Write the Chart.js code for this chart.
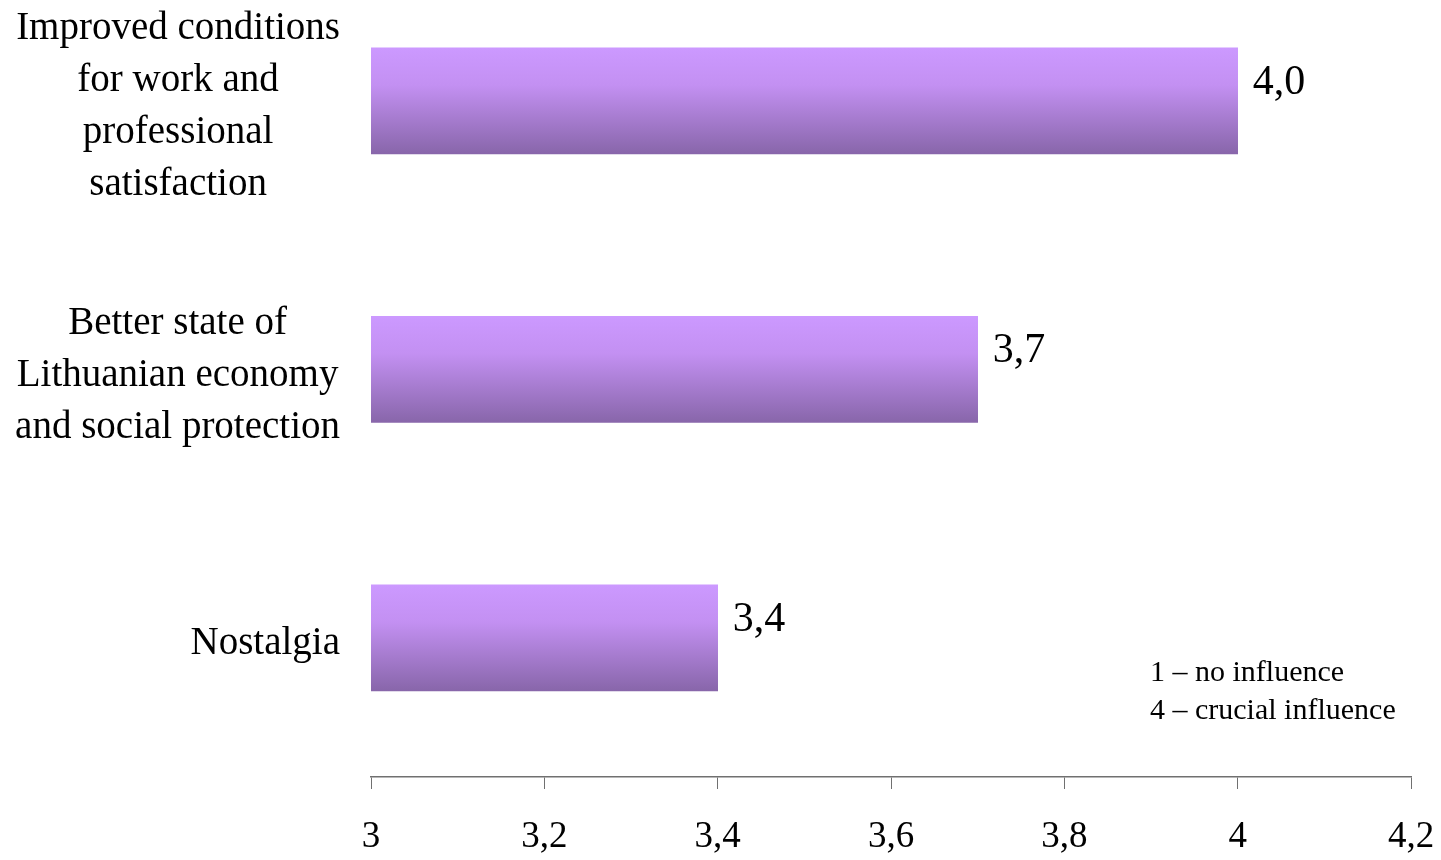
<!DOCTYPE html>
<html>
<head>
<meta charset="utf-8">
<script src="https://cdn.jsdelivr.net/npm/chart.js@4.4.1/dist/chart.umd.min.js"></script>
<style>
    body { margin: 0; background: #fff; }
    #wrap { width: 1441px; height: 860px; position: relative; }
</style>
</head>
<body>
<div id="wrap"><canvas id="influenceChart"></canvas></div>
<script>
const categories = [
    ['Improved conditions', 'for work and', 'professional', 'satisfaction'],
    ['Better state of', 'Lithuanian economy', 'and social protection'],
    ['Nostalgia']
];
const scores = [4.0, 3.7, 3.4];
const xTicks = [3, 3.2, 3.4, 3.6, 3.8, 4, 4.2];
const noteLines = ['1 \u2013 no influence', '4 \u2013 crucial influence'];

const serif = "'Liberation Serif', 'Times New Roman', serif";
const BAR_H = 106;

function comma(v) {
    return String(Math.round(v * 10) / 10).replace('.', ',');
}

// bars get a vertical gradient, light violet on top
function barFill(context) {
    const chart = context.chart;
    const yScale = chart.scales.y;
    if (!chart.chartArea || !yScale || context.dataIndex === undefined) return '#b28ae0';
    const cy = yScale.getPixelForValue(context.dataIndex);
    if (!isFinite(cy)) return '#b28ae0';
    const g = chart.ctx.createLinearGradient(0, cy - BAR_H / 2, 0, cy + BAR_H / 2);
    g.addColorStop(0, '#cc99ff');
    g.addColorStop(0.35, '#c390f2');
    g.addColorStop(1, '#8866aa');
    return g;
}

// category names: each block centred on its own widest line, block right edge next to the axis
const categoryLabels = {
    id: 'categoryLabels',
    afterDraw(chart) {
        const ctx = chart.ctx;
        const yScale = chart.scales.y;
        const right = chart.chartArea.left - 31;
        const lh = 52;
        ctx.save();
        ctx.font = "39px " + serif;
        ctx.fillStyle = '#000';
        ctx.textAlign = 'center';
        ctx.textBaseline = 'middle';
        categories.forEach((lines, i) => {
            const widest = Math.max(...lines.map(l => ctx.measureText(l).width));
            const cx = right - widest / 2;
            const cy = yScale.getPixelForValue(i) + 6;
            const top = cy - (lines.length - 1) * lh / 2;
            lines.forEach((l, k) => ctx.fillText(l, cx, top + k * lh));
        });
        ctx.restore();
    }
};

const valueLabels = {
    id: 'valueLabels',
    afterDatasetsDraw(chart) {
        const ctx = chart.ctx;
        const meta = chart.getDatasetMeta(0);
        ctx.save();
        ctx.font = "42px " + serif;
        ctx.fillStyle = '#000';
        ctx.textBaseline = 'middle';
        ctx.textAlign = 'left';
        meta.data.forEach((bar, i) => {
            ctx.fillText(scores[i].toFixed(1).replace('.', ','), bar.x + 15, bar.y - 18);
        });
        ctx.font = "30px " + serif;
        noteLines.forEach((line, i) => {
            ctx.fillText(line, 1150, 673 + i * 38);
        });
        ctx.restore();
    }
};

const ctx = document.getElementById('influenceChart').getContext('2d');
const influenceChart = new Chart(ctx, {
    type: 'bar',
    data: {
        datasets: [{
            data: scores.map((v, i) => ({ x: v, y: i })),
            backgroundColor: barFill,
            borderWidth: 0,
            barThickness: BAR_H
        }]
    },
    options: {
        indexAxis: 'y',
        responsive: true,
        maintainAspectRatio: false,
        animation: false,
        layout: { padding: { top: 0, right: 30, bottom: 0, left: 0 } },
        plugins: {
            legend: { display: false },
            tooltip: { enabled: false }
        },
        scales: {
            x: {
                type: 'linear',
                min: 3,
                max: 4.2,
                afterBuildTicks: (scale) => {
                    scale.ticks = xTicks.map(v => ({ value: v }));
                },
                afterFit: (scale) => {
                    scale.height = 83;
                    scale.paddingLeft = 0;
                    scale.paddingRight = 0;
                },
                ticks: {
                    callback: (v) => comma(v),
                    color: '#000',
                    font: { family: serif, size: 37 },
                    padding: 26,
                    maxRotation: 0
                },
                grid: {
                    drawOnChartArea: false,
                    drawTicks: true,
                    tickLength: 12,
                    color: '#707070'
                },
                border: { display: true, color: '#707070', width: 1.5 }
            },
            y: {
                type: 'linear',
                reverse: true,
                offset: false,
                min: -0.376,
                max: 2.518,
                afterBuildTicks: (scale) => {
                    scale.ticks = categories.map((c, i) => ({ value: i }));
                },
                afterFit: (scale) => {
                    scale.width = 371;
                    scale.paddingTop = 0;
                    scale.paddingBottom = 0;
                },
                ticks: { display: false },
                grid: { display: false, offset: false },
                border: { display: false }
            }
        }
    },
    plugins: [valueLabels, categoryLabels]
});
</script>
</body>
</html>
